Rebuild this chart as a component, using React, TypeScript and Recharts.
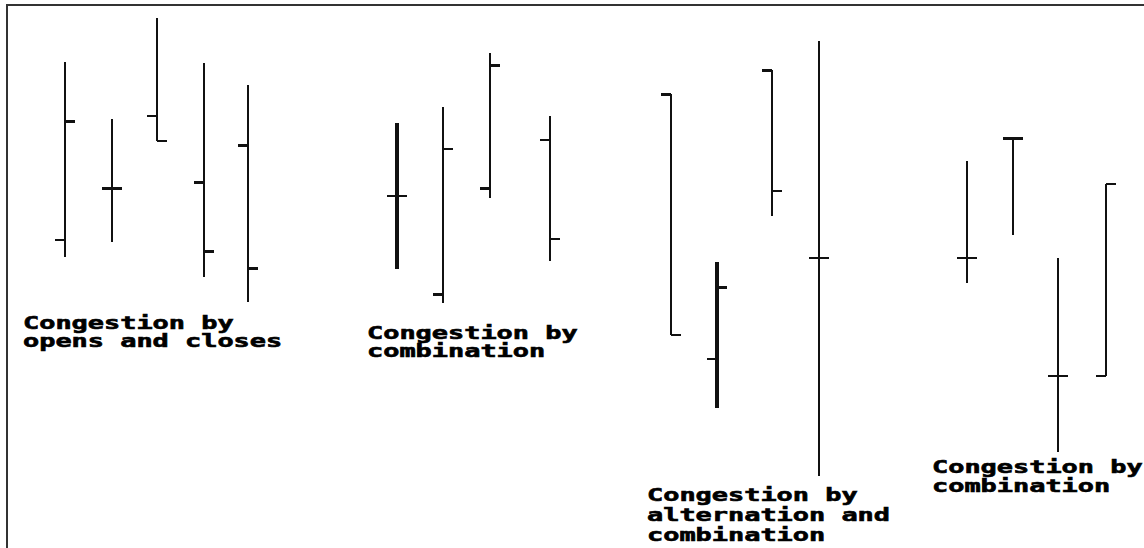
import { ComposedChart, Bar, XAxis, YAxis, ReferenceDot } from 'recharts';

// bar position along the session axis, then OHLC prices
const SESSIONS = [6.5, 11.2, 15.7, 20.4, 24.8, 39.7, 44.3, 49.0, 55.0, 67.1, 71.7, 77.2, 81.9, 96.7, 101.3, 105.8, 110.6];
const OPENS  = [77, 90, 108, 91.5, 100.75, 88, 63.5, 90, 102, 113.5, 47.25, 119.5, 72.5, 72.5, 102.5, 43, 43];
const HIGHS  = [121.5, 107.25, 132.5, 121.25, 115.75, 106.25, 110.25, 123.75, 108, 113.5, 71.5, 119.5, 126.75, 96.75, 102.5, 72.5, 91];
const LOWS   = [72.75, 76.5, 101.75, 67.75, 61.5, 69.75, 61.25, 87.5, 71.75, 53.25, 35, 83, 18, 66.25, 78.25, 24, 43];
const CLOSES = [106.75, 90, 101.75, 74.25, 70, 88, 99.75, 120.75, 77.25, 53.25, 65.25, 89.25, 72.5, 72.5, 102.5, 43, 91];

const LABEL_TEXT = [
  ['Congestion by', 'opens and closes'],
  ['Congestion by', 'combination'],
  ['Congestion by', 'alternation and', 'combination'],
  ['Congestion by', 'combination'],
];
const LABEL_X = [2.3, 36.7, 64.7, 93.2];
const LABEL_Y = [54.75, 52.25, 11.75, 18.75];
const LABEL_GAP = [18, 18, 20, 19];

// which bars get the heavy strokes (drawing style only)
const HEAVY_BODY = [5, 10];
const HEAVY_OPEN = [1, 3, 4, 6, 7, 9, 11, 14];
const HEAVY_CLOSE = [0, 1, 3, 4, 7, 10, 14];

const data = SESSIONS.map((s, i) => ({
  s, open: OPENS[i], high: HIGHS[i], low: LOWS[i], close: CLOSES[i],
}));

const INK = '#111';

function OhlcBar(props: any) {
  const { x, y, width, height, payload, index } = props;
  const cx = Math.round(x + width / 2);
  const span = payload.high - payload.low || 1;
  const py = (v: number) => Math.round(y + ((payload.high - v) / span) * height);
  const body = HEAVY_BODY.includes(index) ? 4 : 2;
  const ow = HEAVY_OPEN.includes(index) ? 3 : 2;
  const cw = HEAVY_CLOSE.includes(index) ? 3 : 2;
  const oy = py(payload.open);
  const cy = py(payload.close);
  return (
    <g shapeRendering="crispEdges">
      <rect x={cx - body / 2} y={y} width={body} height={height} fill={INK} />
      <rect x={cx - 10} y={oy - ow / 2} width={10} height={ow} fill={INK} />
      <rect x={cx} y={cy - cw / 2} width={10} height={cw} fill={INK} />
    </g>
  );
}

function Caption({ cx, cy, lines, gap }: { cx?: number; cy?: number; lines: string[]; gap: number }) {
  if (cx == null || cy == null) return null;
  return (
    <g>
      {lines.map((t, i) => (
        <text
          key={i}
          x={cx}
          y={cy + i * gap}
          fontFamily="'DejaVu Sans Mono', monospace"
          fontWeight="bold"
          fontSize={17}
          textLength={t.length * 16.2}
          lengthAdjust="spacingAndGlyphs"
          fill="#000"
          stroke="#000"
          strokeWidth={0.6}
        >
          {t}
        </text>
      ))}
    </g>
  );
}

export default function App() {
  return (
    <div style={{ position: 'absolute', left: 0, top: 0, width: 1144, height: 548, background: '#fff', overflow: 'hidden' }}>
      <div style={{
        position: 'absolute', left: 6, top: 4, right: -10, bottom: -10,
        borderLeft: '2px solid #333', borderTop: '2px solid #333',
      }} />
      <ComposedChart width={1144} height={548} data={data} margin={{ top: 0, right: 0, bottom: 0, left: 0 }}>
        <XAxis dataKey="s" type="number" domain={[0, 114.4]} hide />
        <YAxis type="number" domain={[0, 137]} hide />
        <Bar
          dataKey={(d: any) => [d.low, d.high]}
          barSize={20}
          shape={(p: any) => <OhlcBar {...p} />}
          isAnimationActive={false}
        />
        {LABEL_TEXT.map((lines, i) => (
          <ReferenceDot
            key={i}
            x={LABEL_X[i]}
            y={LABEL_Y[i]}
            r={0}
            ifOverflow="visible"
            shape={(p: any) => <Caption cx={p.cx} cy={p.cy} lines={lines} gap={LABEL_GAP[i]} />}
          />
        ))}
      </ComposedChart>
    </div>
  );
}
